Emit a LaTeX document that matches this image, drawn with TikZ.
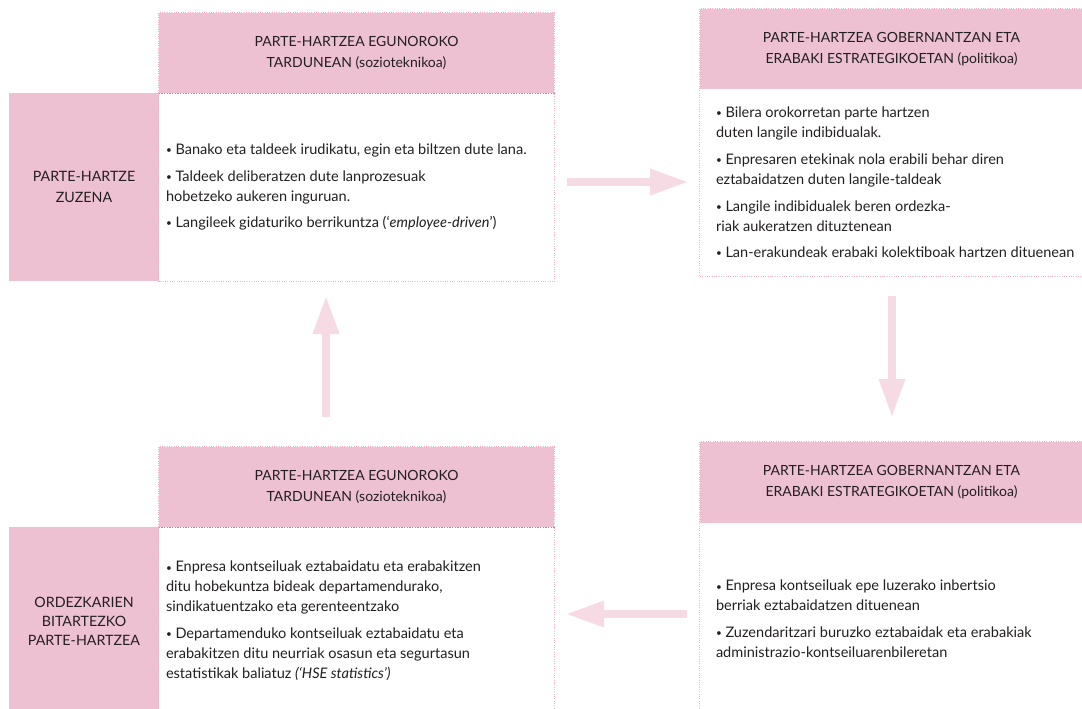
\documentclass[tikz,border=0pt]{standalone}
\usepackage{fontspec}
\setmainfont{Lato}
\usetikzlibrary{arrows.meta}

\definecolor{rosefill}{RGB}{237,193,209}
\definecolor{rosearrow}{RGB}{246,218,228}
\definecolor{roseline}{RGB}{240,178,202}
\definecolor{rosedark}{RGB}{232,110,160}
\definecolor{inktext}{RGB}{35,31,32}

\newcommand{\punt}{\raisebox{0.7pt}{\fontsize{7.5}{7.5}\selectfont\textbullet}\ }

\tikzset{every picture/.style={line width=0.75pt}}

\begin{document}
\begin{tikzpicture}[x=0.75pt,y=0.75pt,yscale=-1,xscale=1,
	rosebox/.style={fill=rosefill, inner sep=0pt, align=center, text=inktext},
	bodybox/.style={fill=white, inner sep=0pt},
	dotframe/.style={draw=roseline, densely dotted, line width=0.75pt},
	headrule/.style={draw=rosedark, densely dotted, line width=1pt},
	txt/.style={font=\fontsize{10.5}{15.75}\selectfont},
	bodytext/.style={anchor=west, inner sep=0pt, align=left, text=inktext, font=\fontsize{10.9}{15}\selectfont},
	fatarrow/.style={draw=rosearrow, line width=6pt, -{Triangle[length=27.75pt, width=20.25pt, line width=0pt]}}]
			\useasboundingbox (0,0) rectangle (1082,708);
			\clip (0,0) rectangle (1082,708);
			% goiko ezkerra
			\node [rosebox, minimum width=112.5pt, minimum height=141pt, font=\fontsize{10.7}{15.75}\selectfont] (zuzen) at (84,187) {PARTE-HARTZE\\ZUZENA};
			\node [rosebox, minimum width=296.25pt, minimum height=60pt, txt] (tlhead) at (356.5,53) {PARTE-HARTZEA EGUNOROKO\\TARDUNEAN (sozioteknikoa)};
			\node [bodybox, minimum width=296.25pt, minimum height=141pt] (tlbody) at (356.5,187) {};
			\draw [dotframe] (tlhead.north west) rectangle (tlbody.south east);
			\draw [headrule] (tlhead.south west) -- (tlhead.south east);
			\node [bodytext] (tltext) at ([xshift=5.25pt]tlbody.west) {\punt Banako eta taldeek irudikatu, egin eta biltzen dute lana.\\[5pt]
				\punt Taldeek deliberatzen dute lanprozesuak\\hobetzeko aukeren inguruan.\\[5pt]
				\punt Langileek gidaturiko berrikuntza (`\textit{employee-driven}')};
			% goiko eskuina
			\node [rosebox, minimum width=287.25pt, minimum height=60pt, txt] (trhead) at (891.5,49) {PARTE-HARTZEA GOBERNANTZAN ETA\\ERABAKI ESTRATEGIKOETAN (politikoa)};
			\node [bodybox, minimum width=287.25pt, minimum height=140.25pt] (trbody) at (891.5,182.5) {};
			\draw [dotframe] (trhead.north west) rectangle (trbody.south east);
			\node [bodytext] (trtext) at ([xshift=12pt]trbody.west) {\punt Bilera orokorretan parte hartzen\\duten langile indibidualak.\\[5pt]
				\punt Enpresaren etekinak nola erabili behar diren\\eztabaidatzen duten langile-taldeak\\[5pt]
				\punt Langile indibidualek beren ordezka-\\riak aukeratzen dituztenean\\[5pt]
				\punt Lan-erakundeak erabaki kolektiboak hartzen dituenean};
			% beheko eskuina
			\node [rosebox, minimum width=287.25pt, minimum height=60.75pt, txt] (brhead) at (891.5,482.5) {PARTE-HARTZEA GOBERNANTZAN ETA\\ERABAKI ESTRATEGIKOETAN (politikoa)};
			\node [bodybox, minimum width=287.25pt, minimum height=144pt] (brbody) at (891.5,619) {};
			\draw [dotframe] (brhead.north west) rectangle (brbody.south east);
			\node [bodytext] (brtext) at ([xshift=12pt]brbody.west) {\punt Enpresa kontseiluak epe luzerako inbertsio\\berriak eztabaidatzen dituenean\\[5pt]
				\punt Zuzendaritzari buruzko eztabaidak eta erabakiak\\administrazio-kontseiluarenbileretan};
			% beheko ezkerra
			\node [rosebox, minimum width=112.5pt, minimum height=141pt, font=\fontsize{10.7}{14.25}\selectfont] (ordez) at (84,621) {ORDEZKARIEN\\BITARTEZKO\\PARTE-HARTZEA};
			\node [rosebox, minimum width=296.25pt, minimum height=60pt, txt] (blhead) at (356.5,487) {PARTE-HARTZEA EGUNOROKO\\TARDUNEAN (sozioteknikoa)};
			\node [bodybox, minimum width=296.25pt, minimum height=141pt] (blbody) at (356.5,621) {};
			\draw [dotframe] (blhead.north west) rectangle (blbody.south east);
			\draw [headrule] (blhead.south west) -- (blhead.south east);
			\node [bodytext] (bltext) at ([xshift=5.25pt]blbody.west) {\punt Enpresa kontseiluak eztabaidatu eta erabakitzen\\ditu hobekuntza bideak departamendurako,\\sindikatuentzako eta gerenteentzako\\[5pt]
				\punt Departamenduko kontseiluak eztabaidatu eta\\erabakitzen ditu neurriak osasun eta segurtasun\\estatistikak baliatuz \textit{(`HSE statistics')}};
			% geziak
			\coordinate (gez1a) at (567,182);
			\coordinate (gez1b) at (687,182);
			\coordinate (gez2a) at (892,296);
			\coordinate (gez2b) at (892,416);
			\coordinate (gez3a) at (687,614);
			\coordinate (gez3b) at (567,614);
			\coordinate (gez4a) at (326,417);
			\coordinate (gez4b) at (326,297);
			\draw [fatarrow] (gez1a) -- (gez1b);
			\draw [fatarrow] (gez2a) -- (gez2b);
			\draw [fatarrow] (gez3a) -- (gez3b);
			\draw [fatarrow] (gez4a) -- (gez4b);
		\end{tikzpicture}
\end{document}
